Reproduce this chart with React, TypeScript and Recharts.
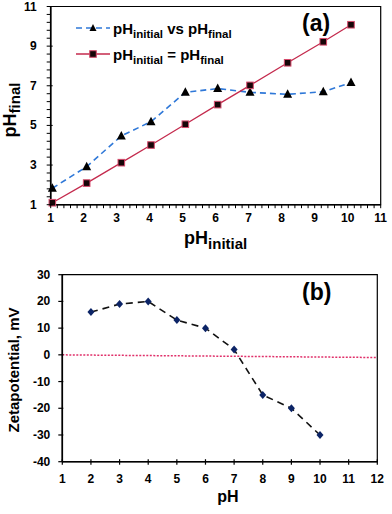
import React from 'react';
import { LineChart, Line, XAxis, YAxis, ReferenceArea } from 'recharts';

// (a) pH initial vs final
const phInitial = [1.05, 2.09, 3.14, 4.04, 5.08, 6.06, 7.04, 8.18, 9.26, 10.1];
const phFinal = [1.83, 2.92, 4.47, 5.19, 6.67, 6.86, 6.67, 6.57, 6.7, 7.16];
const phEqual = [1.1, 2.09, 3.12, 4.01, 5.06, 6.05, 7.02, 8.16, 9.22, 10.08];
const topXLabels = [1, 2, 3, 4, 5, 6, 7, 8, 9, 10, 11];
const topYLabels = [1, 3, 5, 7, 9, 11];

// (b) zeta potential
const zetaPh = [2, 3, 4, 5, 6, 7, 8, 9, 10];
const zetaMv = [16, 19, 20, 13, 10, 2, -15, -20, -30];
const zeroPh = [1, 12];
const zeroMv = [0, -1];
const bottomXLabels = [1, 2, 3, 4, 5, 6, 7, 8, 9, 10, 11, 12];
const bottomYLabels = [-40, -30, -20, -10, 0, 10, 20, 30];

const topData = phInitial.map((x, i) => ({ x, vs: phFinal[i], eq: phEqual[i] }));
const zetaData = zetaPh.map((x, i) => ({ x, z: zetaMv[i] }));
const zeroData = zeroPh.map((x, i) => ({ x, z: zeroMv[i] }));

// minor tick positions
const topXTicks = Array.from({ length: 51 }, (_, i) => Math.round((1 + i * 0.2) * 10) / 10);
const topYTicks = Array.from({ length: 26 }, (_, i) => Math.round((1 + i * 0.4) * 10) / 10);

const FONT = '"Liberation Sans", Arial, sans-serif';

const isLabel = (v: number, list: number[]) => list.some((l) => Math.abs(l - v) < 1e-6);

const TopXTick = (p: any) => {
  const v = p.payload.value;
  return (
    <g>
      <line x1={p.x} x2={p.x} y1={p.y} y2={p.y + 3.5} stroke="#000" strokeWidth={1} />
      {isLabel(v, topXLabels) && (
        <text x={p.x} y={p.y + 17} textAnchor="middle" fontSize={12} fontWeight="bold" fontFamily={FONT} fill="#000">
          {v}
        </text>
      )}
    </g>
  );
};

const TopYTick = (p: any) => {
  const v = p.payload.value;
  const major = isLabel(v, topYLabels);
  return (
    <g>
      <line x1={p.x - 4} x2={p.x + (major ? 2 : 0)} y1={p.y} y2={p.y} stroke="#000" strokeWidth={1} />
      {major && (
        <text x={p.x - 14} y={p.y + 4} textAnchor="end" fontSize={12} fontWeight="bold" fontFamily={FONT} fill="#000">
          {v}
        </text>
      )}
    </g>
  );
};

const BottomXTick = (p: any) => (
  <g>
    <line x1={p.x} x2={p.x} y1={p.y - 2.5} y2={p.y + 3} stroke="#000" strokeWidth={1.2} />
    <text x={p.x} y={p.y + 21} textAnchor="middle" fontSize={12} fontWeight="bold" fontFamily={FONT} fill="#000">
      {p.payload.value}
    </text>
  </g>
);

const BottomYTick = (p: any) => (
  <g>
    <line x1={p.x - 4} x2={p.x + 1} y1={p.y} y2={p.y} stroke="#000" strokeWidth={1.2} />
    <text x={p.x - 12} y={p.y + 4} textAnchor="end" fontSize={12} fontWeight="bold" fontFamily={FONT} fill="#000">
      {p.payload.value}
    </text>
  </g>
);

const Triangle = (p: any) => {
  const { cx, cy } = p;
  if (cx == null || cy == null) return <g key={p.index} />;
  return <path key={p.index} d={`M${cx},${cy - 5} L${cx + 4.5},${cy + 3.5} L${cx - 4.5},${cy + 3.5} Z`} fill="#000" />;
};

const Square = (p: any) => {
  const { cx, cy } = p;
  if (cx == null || cy == null) return <g key={p.index} />;
  return <rect key={p.index} x={cx - 3.3} y={cy - 3.3} width={6.6} height={6.6} fill="#160608" stroke="#d64b6c" strokeWidth={1} />;
};

const Diamond = (p: any) => {
  const { cx, cy } = p;
  if (cx == null || cy == null) return <g key={p.index} />;
  return <path key={p.index} d={`M${cx},${cy - 4} L${cx + 3.5},${cy} L${cx},${cy + 4} L${cx - 3.5},${cy} Z`} fill="#0c2466" />;
};

const TopXLabel = (p: any) => {
  const vb = p.viewBox;
  return (
    <text x={vb.x + vb.width / 2} y={vb.y + 39} textAnchor="middle" fontFamily={FONT} fontWeight="bold" fill="#000">
      <tspan fontSize={18}>pH</tspan>
      <tspan fontSize={15} dy={5}>initial</tspan>
    </text>
  );
};

const TopYLabel = () => (
  <text x={16} y={110} transform="rotate(-90, 16, 110)" textAnchor="middle" fontFamily={FONT} fontWeight="bold" fill="#000">
    <tspan fontSize={18}>pH</tspan>
    <tspan fontSize={15} dy={4}>final</tspan>
  </text>
);

const BottomXLabel = (p: any) => {
  const vb = p.viewBox;
  return (
    <text x={vb.x + vb.width / 2 + 8} y={vb.y + 40} textAnchor="middle" fontFamily={FONT} fontWeight="bold" fontSize={16} fill="#000">
      pH
    </text>
  );
};

const BottomYLabel = () => (
  <text x={19} y={110} transform="rotate(-90, 19, 110)" textAnchor="middle" fontFamily={FONT} fontWeight="bold" fontSize={15} fill="#000">
    Zetapotential, mV
  </text>
);

const Sub = ({ children }: { children: React.ReactNode }) => (
  <span style={{ fontSize: 11.5, position: 'relative', top: 4 }}>{children}</span>
);

const LegendA = () => (
  <div style={{ position: 'absolute', left: 74, top: 19, fontFamily: FONT, fontWeight: 'bold', fontSize: 15, color: '#000' }}>
    <div style={{ display: 'flex', alignItems: 'center', height: 18 }}>
      <svg width={38} height={14}>
        <line x1={2} x2={36} y1={7} y2={7} stroke="#2f78d8" strokeWidth={1.6} strokeDasharray="6 4" />
        <path d="M19,3 L22.5,10 L15.5,10 Z" fill="#000" />
      </svg>
      <span style={{ marginLeft: 1 }}>
        pH<Sub>initial</Sub> vs pH<Sub>final</Sub>
      </span>
    </div>
    <div style={{ display: 'flex', alignItems: 'center', height: 18, marginTop: 8 }}>
      <svg width={38} height={14}>
        <line x1={2} x2={36} y1={7} y2={7} stroke="#c42a4d" strokeWidth={1.3} />
        <rect x={15.7} y={3.7} width={6.6} height={6.6} fill="#160608" stroke="#d64b6c" strokeWidth={1} />
      </svg>
      <span style={{ marginLeft: 1 }}>
        pH<Sub>initial</Sub> = pH<Sub>final</Sub>
      </span>
    </div>
  </div>
);

export default function App() {
  return (
    <div style={{ position: 'absolute', left: 0, top: 0, width: 392, height: 514, background: '#fff' }}>
      <div style={{ position: 'absolute', left: 0, top: 0 }}>
        <LineChart width={392} height={258} data={topData} margin={{ top: 6.5, right: 11.3, left: 0, bottom: 0 }}>
          <XAxis
            dataKey="x"
            type="number"
            domain={[1, 11]}
            ticks={topXTicks}
            interval={0}
            height={53.3}
            tickLine={false}
            tickSize={0}
            tickMargin={0}
            tick={TopXTick}
            axisLine={{ stroke: '#000', strokeWidth: 1.6 }}
            label={TopXLabel}
          />
          <YAxis
            type="number"
            domain={[1, 11]}
            ticks={topYTicks}
            interval={0}
            width={50.7}
            tickLine={false}
            tickSize={0}
            tickMargin={0}
            tick={TopYTick}
            axisLine={{ stroke: '#000', strokeWidth: 1.6 }}
            label={TopYLabel}
          />
          <ReferenceArea x1={1} x2={11} y1={1} y2={11} fill="none" stroke="#000" strokeWidth={1.2} />
          <Line dataKey="vs" stroke="#2f78d8" strokeWidth={1.6} strokeDasharray="6 4" dot={Triangle} isAnimationActive={false} />
          <Line dataKey="eq" stroke="#c42a4d" strokeWidth={1.3} dot={Square} isAnimationActive={false} />
        </LineChart>
        <LegendA />
        <div style={{ position: 'absolute', left: 302, top: 10, fontFamily: FONT, fontWeight: 'bold', fontSize: 23, color: '#000' }}>(a)</div>
      </div>
      <div style={{ position: 'absolute', left: 0, top: 260 }}>
        <LineChart width={392} height={254} data={zetaData} margin={{ top: 14.7, right: 14.7, left: 0, bottom: 0 }}>
          <XAxis
            dataKey="x"
            type="number"
            domain={[1, 12]}
            ticks={bottomXLabels}
            interval={0}
            height={52.3}
            tickLine={false}
            tickSize={0}
            tickMargin={0}
            tick={BottomXTick}
            axisLine={{ stroke: '#000', strokeWidth: 1.6 }}
            label={BottomXLabel}
          />
          <YAxis
            type="number"
            domain={[-40, 30]}
            ticks={bottomYLabels}
            interval={0}
            width={62.3}
            tickLine={false}
            tickSize={0}
            tickMargin={0}
            tick={BottomYTick}
            axisLine={{ stroke: '#000', strokeWidth: 1.6 }}
            label={BottomYLabel}
          />
          <ReferenceArea x1={1} x2={12} y1={-40} y2={30} fill="none" stroke="#000" strokeWidth={1.2} />
          <Line data={zeroData} dataKey="z" stroke="#e0306a" strokeWidth={1.5} strokeDasharray="2 1.5" dot={false} isAnimationActive={false} />
          <Line dataKey="z" stroke="#111" strokeWidth={1.6} strokeDasharray="7 5" dot={Diamond} isAnimationActive={false} />
        </LineChart>
        <div style={{ position: 'absolute', left: 302, top: 19, fontFamily: FONT, fontWeight: 'bold', fontSize: 23, color: '#000' }}>(b)</div>
      </div>
    </div>
  );
}
